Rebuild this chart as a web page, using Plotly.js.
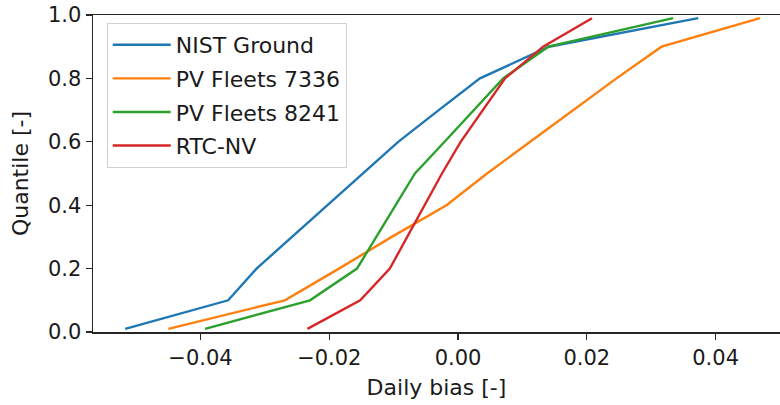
<!DOCTYPE html>
<html>
<head>
<meta charset="utf-8">
<script src="https://cdn.plot.ly/plotly-3.0.1.min.js"></script>
<style>html,body{margin:0;padding:0;overflow:hidden;background:#fff}</style>
</head>
<body>
<div id="chart" style="width:780px;height:405px"></div>
<script>
const quantiles = [0.01, 0.1, 0.2, 0.3, 0.4, 0.5, 0.6, 0.7, 0.8, 0.9, 0.99];
const nistGround = [-0.0517, -0.0357, -0.0313, -0.0258, -0.0202, -0.0147, -0.0093, -0.0030, 0.0034, 0.0141, 0.0373];
const pvFleets7336 = [-0.0450, -0.0269, -0.0185, -0.0103, -0.0018, 0.0045, 0.0112, 0.0179, 0.0246, 0.0316, 0.0469];
const pvFleets8241 = [-0.0393, -0.0230, -0.0157, -0.0127, -0.0097, -0.0067, -0.0021, 0.0025, 0.0070, 0.0140, 0.0334];
const rtcNV = [-0.0234, -0.0152, -0.0106, -0.0079, -0.0052, -0.0025, 0.0004, 0.0038, 0.0073, 0.0132, 0.0208];
const seriesNames = ["NIST Ground", "PV Fleets 7336", "PV Fleets 8241", "RTC-NV"];
const seriesColors = ["#1f77b4", "#ff7f0e", "#2ca02c", "#d62728"];
const xTicks = [-0.04, -0.02, 0.00, 0.02, 0.04];
const yTicks = [0.0, 0.2, 0.4, 0.6, 0.8, 1.0];

const allX = [nistGround, pvFleets7336, pvFleets8241, rtcNV];
const traces = allX.map((xs, i) => ({
  x: xs, y: quantiles, type: "scatter", mode: "lines",
  name: seriesNames[i], legendgroup: "g" + i,
  line: {color: seriesColors[i], width: 2.4}
}));

const tickFont = {family: "DejaVu Sans", size: 21, color: "#1a1a1a"};
const titleFont = {family: "DejaVu Sans", size: 22, color: "#1a1a1a"};
const layout = {
  width: 780, height: 405,
  margin: {l: 93, r: 0, t: 15, b: 73},
  paper_bgcolor: "#fff", plot_bgcolor: "#fff",
  font: tickFont,
  showlegend: true,
  legend: {
    x: 0.02, y: 0.975, xanchor: "left", yanchor: "top",
    bgcolor: "rgba(255,255,255,0.9)", bordercolor: "#d0d0d0", borderwidth: 1,
    font: {family: "DejaVu Sans", size: 22, color: "#1a1a1a"},
    tracegroupgap: 2, itemwidth: 58
  },
  xaxis: {
    range: [-0.0567, 0.0500],
    tickvals: xTicks, tickformat: ".2f",
    ticks: "outside", ticklen: 6, tickwidth: 1.3, tickcolor: "#262626",
    showline: true, linecolor: "#262626", linewidth: 1.5, mirror: true,
    showgrid: false, zeroline: false,
    tickfont: tickFont,
    title: {text: "Daily bias [-]", font: titleFont, standoff: 11},
    automargin: false
  },
  yaxis: {
    range: [0, 1],
    tickvals: yTicks, tickformat: ".1f",
    ticks: "outside", ticklen: 6, tickwidth: 1.3, tickcolor: "#262626",
    showline: true, linecolor: "#262626", linewidth: 1.5, mirror: false,
    showgrid: false, zeroline: false,
    tickfont: tickFont,
    title: {text: "Quantile [-]", font: titleFont, standoff: 13},
    automargin: false
  }
};
Plotly.newPlot("chart", traces, layout, {displayModeBar: false, staticPlot: true});
</script>
</body>
</html>
